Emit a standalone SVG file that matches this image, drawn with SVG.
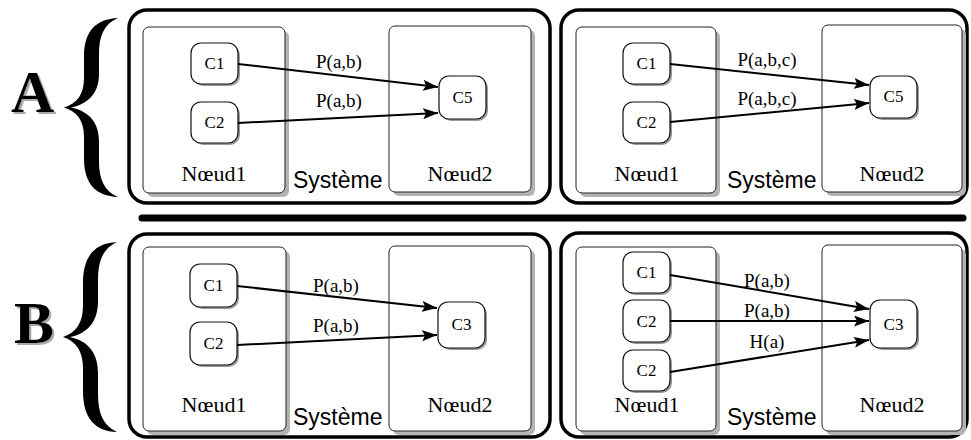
<svg xmlns="http://www.w3.org/2000/svg" width="971" height="440" viewBox="0 0 971 440">
  <style>
    .panel { fill: none; stroke: #000; stroke-width: 3.5; }
    .node { fill: #fff; stroke: #222; stroke-width: 1; }
    .shadow { fill: #b3b3b3; }
    .comp { fill: #fff; stroke: #111; stroke-width: 1.2; }
    .cshadow { fill: #9a9a9a; }
    .nlabel { font-size: 22px; text-anchor: middle; }
    .clabel { font-size: 17px; text-anchor: middle; }
    .elabel { font-size: 19px; text-anchor: middle; }
    .sys { font-size: 23px; }
    .big { font-weight: bold; font-size: 60px; filter: url(#dropshadow); }
    .edge { fill: none; stroke: #000; stroke-width: 2; }
  </style>
  <defs>
    <filter id="dropshadow" x="-10%" y="-10%" width="130%" height="130%">
      <feOffset in="SourceAlpha" dx="2" dy="2" result="off"/>
      <feFlood flood-color="#aaa"/>
      <feComposite in2="off" operator="in" result="shade"/>
      <feMerge>
        <feMergeNode in="shade"/>
        <feMergeNode in="SourceGraphic"/>
      </feMerge>
    </filter>
    <marker id="arrow" viewBox="0 0 15 11" refX="15" refY="5.5" markerWidth="15" markerHeight="11" markerUnits="userSpaceOnUse" orient="auto">
      <path d="M0,0 L15,5.5 L0,11 L3,5.5 Z" fill="#000"/>
    </marker>
    <!-- left curly brace, tip at x=0, height 180 -->
    <path id="brace" d="M54,0 C32,1 20,13 20,39 L20,60 C20,77 13,86 0,90 C13,94 20,103 20,120 L20,141 C20,167 32,179 54,180 C40,174 35,162 35,144 L35,124 C35,106 26,94 7,90 C26,86 35,74 35,56 L35,36 C35,18 40,6 54,0 Z" fill="#000"/>
  </defs>

  <rect width="971" height="440" fill="#fff"/>

  <!-- section labels with braces -->
  <g id="label-A" font-family="Liberation Serif, DejaVu Serif, serif">
    <text class="big" x="11" y="112" fill="#000">A</text>
    <use href="#brace" transform="translate(64,18) scale(1,0.994)"/>
  </g>
  <g id="label-B" font-family="Liberation Serif, DejaVu Serif, serif">
    <text class="big" x="14" y="343" fill="#000">B</text>
    <use href="#brace" transform="translate(63,242) scale(1,1.056)"/>
  </g>

  <!-- separator -->
  <line x1="142" y1="218" x2="963" y2="218" stroke="#000" stroke-width="7" stroke-linecap="round"/>

  <!-- system panels -->
  <g font-family="Liberation Sans, Arial, sans-serif">
    <g id="panel-A1">
      <rect class="panel" x="129" y="10" width="421" height="193" rx="18"/>
      <text class="sys" x="293" y="188">Système</text>
    </g>
    <g id="panel-A2">
      <rect class="panel" x="561" y="10" width="406" height="193" rx="18"/>
      <text class="sys" x="727" y="188">Système</text>
    </g>
    <g id="panel-B1">
      <rect class="panel" x="129" y="234" width="421" height="203" rx="18"/>
      <text class="sys" x="293" y="425">Système</text>
    </g>
    <g id="panel-B2">
      <rect class="panel" x="561" y="233" width="406" height="204" rx="18"/>
      <text class="sys" x="727" y="425">Système</text>
    </g>
  </g>

  <g font-family="Liberation Serif, DejaVu Serif, serif">
    <!-- A1 nodes -->
    <g id="A1-noeud1">
      <rect class="shadow" x="147" y="31" width="142" height="166" rx="6"/>
      <rect class="node" x="143" y="27" width="142" height="166" rx="6"/>
      <text class="nlabel" x="214" y="181">Nœud1</text>
    </g>
    <g id="A1-noeud2">
      <rect class="shadow" x="393" y="30" width="142" height="166" rx="6"/>
      <rect class="node" x="389" y="26" width="142" height="166" rx="6"/>
      <text class="nlabel" x="460" y="181">Nœud2</text>
    </g>
    <g id="A1-c1">
      <rect class="cshadow" x="193" y="45" width="47" height="41" rx="10"/>
      <rect class="comp" x="191" y="43" width="47" height="41" rx="10"/>
      <text class="clabel" x="214.5" y="69">C1</text>
    </g>
    <g id="A1-c2">
      <rect class="cshadow" x="193" y="104" width="47" height="41" rx="10"/>
      <rect class="comp" x="191" y="102" width="47" height="41" rx="10"/>
      <text class="clabel" x="214.5" y="128">C2</text>
    </g>
    <g id="A1-c5">
      <rect class="cshadow" x="441" y="78" width="47" height="43" rx="10"/>
      <rect class="comp" x="439" y="76" width="47" height="43" rx="10"/>
      <text class="clabel" x="462.5" y="103">C5</text>
    </g>

    <!-- A2 nodes -->
    <g id="A2-noeud1">
      <rect class="shadow" x="580" y="31" width="140" height="166" rx="6"/>
      <rect class="node" x="576" y="27" width="140" height="166" rx="6"/>
      <text class="nlabel" x="647" y="181">Nœud1</text>
    </g>
    <g id="A2-noeud2">
      <rect class="shadow" x="826" y="29" width="140" height="167" rx="6"/>
      <rect class="node" x="822" y="25" width="140" height="167" rx="6"/>
      <text class="nlabel" x="892" y="181">Nœud2</text>
    </g>
    <g id="A2-c1">
      <rect class="cshadow" x="625" y="45" width="47" height="41" rx="10"/>
      <rect class="comp" x="623" y="43" width="47" height="41" rx="10"/>
      <text class="clabel" x="646.5" y="69">C1</text>
    </g>
    <g id="A2-c2">
      <rect class="cshadow" x="625" y="104" width="47" height="41" rx="10"/>
      <rect class="comp" x="623" y="102" width="47" height="41" rx="10"/>
      <text class="clabel" x="646.5" y="128">C2</text>
    </g>
    <g id="A2-c5">
      <rect class="cshadow" x="872" y="78" width="47" height="42" rx="10"/>
      <rect class="comp" x="870" y="76" width="47" height="42" rx="10"/>
      <text class="clabel" x="893.5" y="102">C5</text>
    </g>

    <!-- B1 nodes -->
    <g id="B1-noeud1">
      <rect class="shadow" x="147" y="251" width="143" height="184" rx="6"/>
      <rect class="node" x="143" y="247" width="143" height="184" rx="6"/>
      <text class="nlabel" x="214" y="412">Nœud1</text>
    </g>
    <g id="B1-noeud2">
      <rect class="shadow" x="393" y="250" width="142" height="185" rx="6"/>
      <rect class="node" x="389" y="246" width="142" height="185" rx="6"/>
      <text class="nlabel" x="460" y="412">Nœud2</text>
    </g>
    <g id="B1-c1">
      <rect class="cshadow" x="192" y="266" width="47" height="43" rx="10"/>
      <rect class="comp" x="190" y="264" width="47" height="43" rx="10"/>
      <text class="clabel" x="213.5" y="291">C1</text>
    </g>
    <g id="B1-c2">
      <rect class="cshadow" x="192" y="324" width="47" height="43" rx="10"/>
      <rect class="comp" x="190" y="322" width="47" height="43" rx="10"/>
      <text class="clabel" x="213.5" y="349">C2</text>
    </g>
    <g id="B1-c3">
      <rect class="cshadow" x="440" y="304" width="47" height="46" rx="10"/>
      <rect class="comp" x="438" y="302" width="47" height="46" rx="10"/>
      <text class="clabel" x="461.5" y="330">C3</text>
    </g>

    <!-- B2 nodes -->
    <g id="B2-noeud1">
      <rect class="shadow" x="580" y="251" width="140" height="184" rx="6"/>
      <rect class="node" x="576" y="247" width="140" height="184" rx="6"/>
      <text class="nlabel" x="647" y="412">Nœud1</text>
    </g>
    <g id="B2-noeud2">
      <rect class="shadow" x="826" y="249" width="140" height="186" rx="6"/>
      <rect class="node" x="822" y="245" width="140" height="186" rx="6"/>
      <text class="nlabel" x="892" y="412">Nœud2</text>
    </g>
    <g id="B2-c1">
      <rect class="cshadow" x="625" y="254" width="47" height="41" rx="10"/>
      <rect class="comp" x="623" y="252" width="47" height="41" rx="10"/>
      <text class="clabel" x="646.5" y="278">C1</text>
    </g>
    <g id="B2-c2">
      <rect class="cshadow" x="625" y="302" width="47" height="42" rx="10"/>
      <rect class="comp" x="623" y="300" width="47" height="42" rx="10"/>
      <text class="clabel" x="646.5" y="327">C2</text>
    </g>
    <g id="B2-c2b">
      <rect class="cshadow" x="625" y="352" width="47" height="41" rx="10"/>
      <rect class="comp" x="623" y="350" width="47" height="41" rx="10"/>
      <text class="clabel" x="646.5" y="376">C2</text>
    </g>
    <g id="B2-c3">
      <rect class="cshadow" x="872" y="302" width="47" height="48" rx="10"/>
      <rect class="comp" x="870" y="300" width="47" height="48" rx="10"/>
      <text class="clabel" x="893.5" y="330">C3</text>
    </g>
  </g>

  <!-- connectors -->
  <g id="connectors" font-family="Liberation Serif, DejaVu Serif, serif">
    <line class="edge" x1="238" y1="64" x2="438" y2="87" marker-end="url(#arrow)"/>
    <line class="edge" x1="238" y1="123" x2="438" y2="113" marker-end="url(#arrow)"/>
    <text class="elabel" x="339" y="68">P(a,b)</text>
    <text class="elabel" x="339" y="107">P(a,b)</text>

    <line class="edge" x1="670" y1="64" x2="869" y2="85" marker-end="url(#arrow)"/>
    <line class="edge" x1="670" y1="122" x2="869" y2="103" marker-end="url(#arrow)"/>
    <text class="elabel" x="767" y="66">P(a,b,c)</text>
    <text class="elabel" x="767" y="105">P(a,b,c)</text>

    <line class="edge" x1="237" y1="286" x2="437" y2="308" marker-end="url(#arrow)"/>
    <line class="edge" x1="237" y1="345" x2="437" y2="335" marker-end="url(#arrow)"/>
    <text class="elabel" x="336" y="292">P(a,b)</text>
    <text class="elabel" x="336" y="332">P(a,b)</text>

    <line class="edge" x1="670" y1="275" x2="869" y2="309" marker-end="url(#arrow)"/>
    <line class="edge" x1="670" y1="321" x2="869" y2="321" marker-end="url(#arrow)"/>
    <line class="edge" x1="670" y1="372" x2="869" y2="340" marker-end="url(#arrow)"/>
    <text class="elabel" x="767" y="287">P(a,b)</text>
    <text class="elabel" x="767" y="317">P(a,b)</text>
    <text class="elabel" x="767" y="348">H(a)</text>
  </g>
</svg>
